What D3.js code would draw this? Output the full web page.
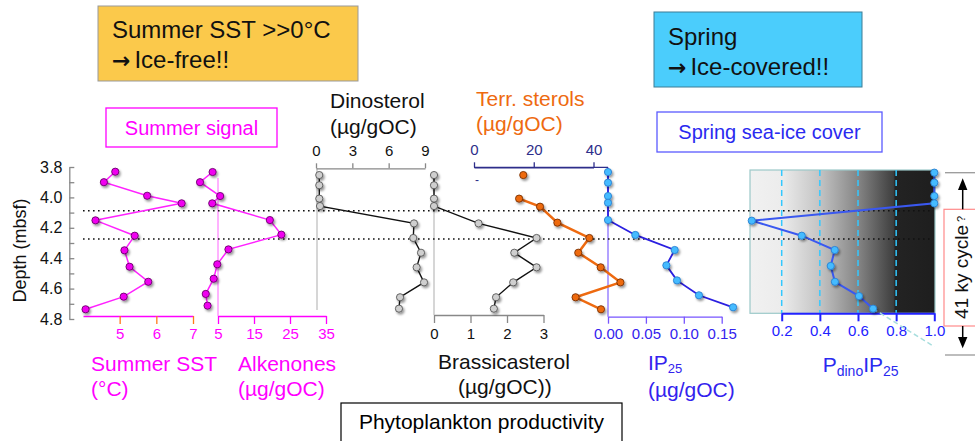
<!DOCTYPE html>
<html><head><meta charset="utf-8">
<script src="https://cdn.jsdelivr.net/npm/d3@7"></script>
<style>
html,body{margin:0;padding:0;background:#fff;}
svg{display:block;font-family:"Liberation Sans",Arial,Helvetica,sans-serif;}
</style></head><body>
<svg id="chart" width="975" height="441"></svg>
<script>
// ---------------- DATA ----------------
const depthTickValues = [3.8, 3.9, 4.0, 4.1, 4.2, 4.3, 4.4, 4.5, 4.6, 4.7, 4.8];
const depthTickLabels = ["3.8", "", "4.0", "", "4.2", "", "4.4", "", "4.6", "", "4.8"];
const boundaryDepths = [4.088, 4.274];

const sstDepth  = [3.831, 3.900, 3.989, 4.039, 4.151, 4.252, 4.348, 4.456, 4.555, 4.653, 4.736];
const sstValues = [4.88, 4.57, 5.75, 6.69, 4.34, 5.41, 5.13, 5.27, 5.78, 5.11, 4.07];
const sstTicks  = [5, 6, 7];

const alkDepth  = [3.833, 3.900, 3.991, 4.039, 4.149, 4.245, 4.342, 4.440, 4.535, 4.635, 4.712];
const alkValues = [3.5, 0.0, 5.6, 3.4, 19.4, 22.6, 7.9, 4.8, 3.8, 1.6, 2.1];
const alkTicks  = [5, 15, 25, 35];

const sterolDepth = [3.853, 3.920, 4.008, 4.057, 4.171, 4.267, 4.364, 4.460, 4.559, 4.657, 4.732];
const dinoValues  = [0.27, 0.27, 0.27, 0.33, 8.09, 8.03, 8.67, 8.31, 8.92, 6.94, 6.85];
const dinoTicks   = [0, 3, 6, 9];
const brassValues = [0, 0, 0, 0, 1.22, 2.81, 2.20, 2.81, 2.17, 1.70, 1.64];
const brassTicks  = [0, 1, 2, 3];

const terrDepth  = [3.853, 4.008, 4.061, 4.166, 4.267, 4.364, 4.460, 4.559, 4.657, 4.736];
const terrValues = [16.5, 15.1, 22.1, 27.9, 38.6, 34.9, 42.4, 49.0, 34.0, 42.5];
const terrTicks  = [0, 20, 40];

const ip25Depth  = [3.833, 3.903, 3.991, 4.035, 4.149, 4.247, 4.346, 4.447, 4.546, 4.644, 4.723];
const ip25Values = [0, 0, 0, 0, 0, 0.036, 0.088, 0.077, 0.091, 0.120, 0.165];
const ip25Ticks  = [0.00, 0.05, 0.10, 0.15];

const pdinoDepth  = [3.837, 3.903, 3.991, 4.039, 4.153, 4.252, 4.346, 4.451, 4.555, 4.649, 4.732];
const pdinoValues = [1.0, 1.0, 1.0, 1.0, 0.043, 0.305, 0.478, 0.457, 0.479, 0.605, 0.679];
const pdinoTicks  = [0.2, 0.4, 0.6, 0.8, 1.0];

// ---------------- SETUP ----------------
const svg = d3.select("#chart");
const defs = svg.append("defs");
defs.append("filter").attr("id", "shadow")
  .attr("x", "-100%").attr("y", "-100%").attr("width", "300%").attr("height", "300%")
  .append("feDropShadow").attr("dx", 1.5).attr("dy", 2).attr("stdDeviation", 1.3)
  .attr("flood-color", "#000").attr("flood-opacity", 0.4);
const grad = defs.append("linearGradient").attr("id", "iceGrad")
  .attr("x1", "0%").attr("x2", "100%").attr("y1", "0%").attr("y2", "0%");
[[0, "#f1f1f1"], [0.17, "#ececec"], [0.38, "#c3c3c3"], [0.59, "#838383"],
 [0.775, "#3f3f3f"], [0.785, "#232323"], [1, "#1e1e1e"]]
  .forEach(([o, c]) => grad.append("stop").attr("offset", o).attr("stop-color", c));

const y = d3.scaleLinear().domain([3.8, 4.8]).range([167, 319]);

const sstX   = d3.scaleLinear().domain([4, 7]).range([83, 193]);
const alkX   = d3.scaleLinear().domain([5, 35]).range([218, 326]);
const dinoX  = d3.scaleLinear().domain([0, 9]).range([316, 425]);
const brassX = d3.scaleLinear().domain([0, 3]).range([434, 543.5]);
const terrX  = d3.scaleLinear().domain([0, 40]).range([474, 593.5]);
const ip25X  = d3.scaleLinear().domain([0, 0.15]).range([608, 721.7]);
const pdinoX = d3.scaleLinear().domain([0.2, 1.0]).range([781.7, 934.3]);

const intFmt = d3.format("d");

function txt(x, yy, s, o = {}) {
  return svg.append("text").attr("x", x).attr("y", yy).text(s)
    .attr("font-size", o.size || 21).attr("fill", o.fill || "#000")
    .attr("text-anchor", o.anchor || "start");
}

function arrowTxt(x, yy, s) {
  const t = txt(x, yy, "", {size: 24, fill: "#111"});
  t.append("tspan").attr("font-family", "DejaVu Sans, sans-serif").attr("font-weight", "bold")
    .attr("font-size", 22).text("→");
  t.append("tspan").attr("dx", 4).text(s);
  return t;
}

function styleAxis(g, o) {
  g.select(".domain").attr("stroke", o.line).attr("stroke-width", o.lw || 1.3);
  g.selectAll(".tick line").attr("stroke", o.tick).attr("stroke-width", o.lw || 1.3);
  g.selectAll(".tick text").attr("fill", o.label).attr("font-size", o.fs || 15)
    .attr("font-family", "Liberation Sans, Arial, sans-serif");
}

// ---------------- TOP BOXES ----------------
svg.append("rect").attr("x", 98).attr("y", 6).attr("width", 260).attr("height", 75)
  .attr("fill", "#fbc94b").attr("stroke", "#999");
txt(112, 38, "Summer SST >>0°C", {size: 24, fill: "#111"});
arrowTxt(112, 68, "Ice-free!!");

svg.append("rect").attr("x", 654).attr("y", 12).attr("width", 208).attr("height", 75)
  .attr("fill", "#4bcdfc").attr("stroke", "#3d7d95");
txt(668, 45, "Spring", {size: 24, fill: "#111"});
arrowTxt(668, 75, "Ice-covered!!");

svg.append("rect").attr("x", 106).attr("y", 108).attr("width", 171).attr("height", 39)
  .attr("fill", "none").attr("stroke", "#ff00ff").attr("stroke-width", 1.3);
txt(191.5, 135, "Summer signal", {size: 20, fill: "#ff00ff", anchor: "middle"});

svg.append("rect").attr("x", 657).attr("y", 112).attr("width", 225).attr("height", 40)
  .attr("fill", "none").attr("stroke", "#5a5aff").attr("stroke-width", 1.3);
txt(769.5, 139, "Spring sea-ice cover", {size: 20, fill: "#2a2af0", anchor: "middle"});

svg.append("rect").attr("x", 341).attr("y", 403).attr("width", 281).attr("height", 50)
  .attr("fill", "none").attr("stroke", "#000").attr("stroke-width", 1.2);
txt(481.5, 429, "Phytoplankton productivity", {size: 21, anchor: "middle"});

// ---------------- PDINO BACKGROUND ----------------
svg.append("rect").attr("x", 750).attr("y", 170).attr("width", 185).attr("height", 143.3)
  .attr("fill", "url(#iceGrad)").attr("stroke", "#9cc9c9").attr("stroke-width", 1.2);
svg.append("g").selectAll("line").data(pdinoTicks.slice(0, 4)).join("line")
  .attr("x1", d => pdinoX(d)).attr("x2", d => pdinoX(d))
  .attr("y1", 170).attr("y2", 313.3)
  .attr("stroke", "#33c8ff").attr("stroke-width", 1.5).attr("stroke-dasharray", "6,4");

// ---------------- DEPTH AXIS ----------------
const yAxis = svg.append("g").attr("transform", "translate(69.3,0)")
  .call(d3.axisLeft(y).tickValues(depthTickValues).tickSize(-5).tickSizeOuter(0)
    .tickPadding(7).tickFormat((d, i) => depthTickLabels[i]));
styleAxis(yAxis, {line: "#888", tick: "#888", label: "#111", fs: 16});
svg.append("text").attr("transform", "translate(26,250.5) rotate(-90)")
  .attr("text-anchor", "middle").attr("font-size", 18).attr("fill", "#111").text("Depth (mbsf)");

// ---------------- REFERENCE LINES ----------------
svg.append("line").attr("x1", alkX(5)).attr("x2", alkX(5)).attr("y1", 178).attr("y2", 316)
  .attr("stroke", "#ff66ff").attr("stroke-width", 1);
svg.append("line").attr("x1", dinoX(0) + 1).attr("x2", dinoX(0) + 1).attr("y1", 168).attr("y2", 310)
  .attr("stroke", "#bbb").attr("stroke-width", 1.2);
svg.append("line").attr("x1", brassX(0)).attr("x2", brassX(0)).attr("y1", 175).attr("y2", 315)
  .attr("stroke", "#bbb").attr("stroke-width", 1.2);
svg.append("line").attr("x1", ip25X(0)).attr("x2", ip25X(0)).attr("y1", 167.3).attr("y2", 316.7)
  .attr("stroke", "#8a70ff").attr("stroke-width", 1.3);

// ---------------- AXES ----------------
const sstAxis = svg.append("g").attr("transform", "translate(0,316)")
  .call(d3.axisBottom(sstX).tickValues(sstTicks).tickSize(8).tickSizeOuter(0).tickPadding(4).tickFormat(intFmt));
styleAxis(sstAxis, {line: "#ff00ff", tick: "#ff7a1a", label: "#ff00ff", fs: 15});

const alkAxis = svg.append("g").attr("transform", "translate(0,316)")
  .call(d3.axisBottom(alkX).tickValues(alkTicks).tickSize(8).tickSizeOuter(0).tickPadding(4).tickFormat(intFmt));
styleAxis(alkAxis, {line: "#ff00ff", tick: "#ff00ff", label: "#ff00ff", fs: 15});

const dinoAxis = svg.append("g").attr("transform", "translate(0,168.3)")
  .call(d3.axisTop(dinoX).tickValues(dinoTicks).tickSize(5).tickSizeOuter(0).tickPadding(7).tickFormat(intFmt));
styleAxis(dinoAxis, {line: "#888", tick: "#888", label: "#111", fs: 15});

const brassAxis = svg.append("g").attr("transform", "translate(0,315)")
  .call(d3.axisBottom(brassX).tickValues(brassTicks).tickSize(8).tickSizeOuter(0).tickPadding(5).tickFormat(intFmt));
styleAxis(brassAxis, {line: "#888", tick: "#888", label: "#111", fs: 15});

svg.append("line").attr("x1", terrX(0)).attr("x2", ip25X(0)).attr("y1", 167.3).attr("y2", 167.3)
  .attr("stroke", "#2e2e8a").attr("stroke-width", 1.3);
const terrAxis = svg.append("g").attr("transform", "translate(0,167.3)")
  .call(d3.axisTop(terrX).tickValues(terrTicks).tickSize(5).tickSizeOuter(0).tickPadding(7).tickFormat(intFmt));
styleAxis(terrAxis, {line: "#2e2e8a", tick: "#2e2e8a", label: "#2e2e8a", fs: 15});
txt(475, 184, "-", {size: 12, fill: "#2e2e8a"});

const ipAxis = svg.append("g").attr("transform", "translate(0,316.7)")
  .call(d3.axisBottom(ip25X).tickValues(ip25Ticks).tickSize(7).tickSizeOuter(0).tickPadding(5)
    .tickFormat(d3.format(".2f")));
styleAxis(ipAxis, {line: "#7755ff", tick: "#7755ff", label: "#3322ee", fs: 15});

const pdAxis = svg.append("g").attr("transform", "translate(0,313.3)")
  .call(d3.axisBottom(pdinoX).tickValues(pdinoTicks).tickSize(8).tickSizeOuter(0).tickPadding(4)
    .tickFormat(d3.format(".1f")));
styleAxis(pdAxis, {line: "#2222ff", tick: "#2222ff", label: "#2222ff", fs: 15, lw: 2});

// ---------------- BOUNDARY DOTTED LINES ----------------
svg.append("g").selectAll("line").data(boundaryDepths).join("line")
  .attr("x1", 83).attr("x2", 932).attr("y1", d => y(d)).attr("y2", d => y(d))
  .attr("stroke", "#111").attr("stroke-width", 1.6).attr("stroke-dasharray", "1.6,3.4");

// ---------------- SERIES ----------------
function drawSeries(depths, values, xs, o) {
  const g = svg.append("g");
  const idx = d3.range(o.start || 0, depths.length);
  g.append("path").datum(idx)
    .attr("d", d3.line().x(i => xs(values[i])).y(i => y(depths[i])))
    .attr("fill", "none").attr("stroke", o.line).attr("stroke-width", o.lw || 1.5);
  g.append("g").selectAll("circle").data(d3.range(depths.length)).join("circle")
    .attr("cx", i => xs(values[i])).attr("cy", i => y(depths[i])).attr("r", o.r || 3.6)
    .attr("fill", o.fill).attr("stroke", o.stroke).attr("stroke-width", 0.9)
    .attr("filter", "url(#shadow)");
}

drawSeries(sstDepth, sstValues, sstX, {line: "#ff22ff", fill: "#f000f0", stroke: "#6a006a"});
drawSeries(alkDepth, alkValues, alkX, {line: "#ff22ff", fill: "#f000f0", stroke: "#6a006a"});
drawSeries(sterolDepth, dinoValues, dinoX, {line: "#111", fill: "#cfcfcf", stroke: "#555", lw: 1.4});
drawSeries(sterolDepth, brassValues, brassX, {line: "#111", fill: "#cfcfcf", stroke: "#555", lw: 1.4});
drawSeries(terrDepth, terrValues, terrX, {line: "#ee6a10", fill: "#ee6a10", stroke: "#7a3000", lw: 2.5, start: 1});
drawSeries(ip25Depth, ip25Values, ip25X, {line: "#2b1fe0", fill: "#44bbff", stroke: "#2a80d0", lw: 1.8});

// dashed continuation below last PdinoIP25 point
const lastI = pdinoDepth.length - 1;
svg.append("line").attr("x1", pdinoX(pdinoValues[lastI])).attr("y1", y(pdinoDepth[lastI]))
  .attr("x2", 934.3).attr("y2", 346.7)
  .attr("stroke", "#a8dede").attr("stroke-width", 1.5).attr("stroke-dasharray", "5,3");
drawSeries(pdinoDepth, pdinoValues, pdinoX, {line: "#3a58f0", fill: "#44bbff", stroke: "#2a80d0", lw: 2});

// ---------------- TITLES ----------------
txt(91, 371, "Summer SST", {fill: "#ff00ff"});
txt(91, 396, "(°C)", {fill: "#ff00ff"});
txt(238, 371, "Alkenones", {fill: "#ff00ff"});
txt(238, 396, "(µg/gOC)", {fill: "#ff00ff"});
txt(330, 108, "Dinosterol", {fill: "#111"});
txt(330, 134, "(µg/gOC)", {fill: "#111"});
txt(476, 106, "Terr. sterols", {fill: "#ee6a10"});
txt(476, 131, "(µg/gOC)", {fill: "#ee6a10"});
txt(438, 369, "Brassicasterol", {fill: "#111"});
txt(458, 394, "(µg/gOC))", {fill: "#111"});

const ipT = txt(648, 370, "", {fill: "#3322ee"});
ipT.append("tspan").text("IP");
ipT.append("tspan").attr("dy", 3).attr("font-size", 13).text("25");
txt(648, 397, "(µg/gOC)", {fill: "#3322ee"});

const pdT = txt(822.7, 371.7, "", {fill: "#2a2af0"});
pdT.append("tspan").text("P");
pdT.append("tspan").attr("dy", 4).attr("font-size", 14).text("dino");
pdT.append("tspan").attr("dy", -4).text("IP");
pdT.append("tspan").attr("dy", 4).attr("font-size", 14).text("25");

// ---------------- 41 KY BRACKET ----------------
svg.append("line").attr("x1", 945).attr("x2", 975).attr("y1", 172.7).attr("y2", 172.7)
  .attr("stroke", "#999").attr("stroke-width", 1.3);
svg.append("line").attr("x1", 945).attr("x2", 975).attr("y1", 355).attr("y2", 355)
  .attr("stroke", "#999").attr("stroke-width", 1.3);
svg.append("rect").attr("x", 944).attr("y", 209.3).attr("width", 40).attr("height", 116.7)
  .attr("fill", "#fff").attr("stroke", "#ff8a8a").attr("stroke-width", 1.2);
svg.append("line").attr("x1", 962.7).attr("x2", 962.7).attr("y1", 188).attr("y2", 209.3)
  .attr("stroke", "#000").attr("stroke-width", 1.5);
svg.append("line").attr("x1", 962.7).attr("x2", 962.7).attr("y1", 326).attr("y2", 338)
  .attr("stroke", "#000").attr("stroke-width", 1.5);
svg.append("path").attr("d", "M962.7,178.3 L958,190 L967.4,190 Z").attr("fill", "#000");
svg.append("path").attr("d", "M962.7,348.3 L958,337 L967.4,337 Z").attr("fill", "#000");
const kyT = svg.append("text").attr("transform", "translate(967.5,319) rotate(-90)")
  .attr("font-size", 19).attr("fill", "#111");
kyT.append("tspan").text("41 ky cycle");
kyT.append("tspan").attr("dx", 3).attr("dy", -3).attr("font-size", 11).text("?");
</script>
</body></html>
